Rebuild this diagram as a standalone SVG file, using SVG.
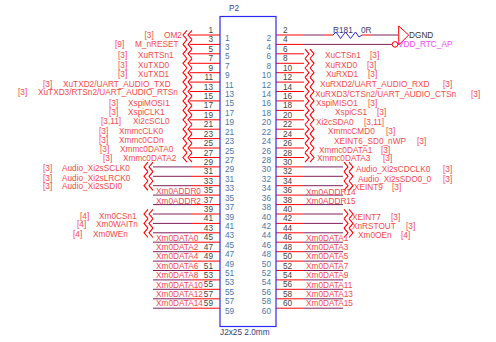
<svg xmlns="http://www.w3.org/2000/svg" width="496" height="342" viewBox="0 0 496 342">
<style>
text{font-family:"Liberation Sans",Arial,sans-serif;font-size:8.25px}
.l{fill:#f54a4a}
.o{fill:#444}
.il{fill:#4a76a8}
.ir{fill:#4a76a8;text-anchor:end}
.ol{fill:#444;text-anchor:end}
.w{fill:none;stroke:#f00;stroke-width:1}
.p{fill:none;stroke:#80205c;stroke-width:1}
.c{fill:none;stroke:#f00;stroke-width:1.1}
</style>
<defs>
<path id="cl" class="c" d="M4-4.7L0 0L4 4.7M-1-4.7L-5 0L-1 4.7"/>
<path id="cr" class="c" d="M-4-4.7L0 0L-4 4.7M1-4.7L5 0L1 4.7"/>
</defs>
<rect width="496" height="342" fill="#fff"/>
<g id="connectors">
<path class="w" d="M190 35H220M190 44.4H220M190 53.8H220M190 63.3H220M190 72.7H220M190 82.1H220M190 91.5H220M190 100.9H220M190 110.4H220M190 119.8H220M190 129.2H220M190 138.6H220M190 148H220M190 157.5H220"/>
<path class="w" d="M191 166.9H220M191 176.3H220M191 185.7H220M191 195.1H220M191 204.6H220M191 214H220M191 223.4H220M191 232.8H220M191 242.2H220M191 251.7H220M191 261.1H220M191 270.5H220M191 279.9H220M191 289.3H220M191 298.8H220M191 308.2H220"/>
<path class="p" d="M153 166.9H191M153 176.3H191M153 185.7H191M153 195.1H191M153 204.6H191M153 214H191M153 223.4H191M153 232.8H191M153 242.2H191M153 251.7H191M153 261.1H191M153 270.5H191M153 279.9H191M153 289.3H191M153 298.8H191M153 308.2H191"/>
<path class="w" d="M276 35H304M276 44.4H304M276 53.8H304M276 63.3H304M276 72.7H304M276 82.1H304M276 91.5H304M276 100.9H304M276 110.4H304M276 119.8H304M276 129.2H304M276 138.6H304M276 148H304M276 157.5H304"/>
<path class="w" d="M276 166.9H304M276 176.3H304M276 185.7H304M276 195.1H304M276 204.6H304M276 214H304M276 223.4H304M276 232.8H304M276 242.2H304M276 251.7H304M276 261.1H304M276 270.5H304M276 279.9H304M276 289.3H304M276 298.8H304M276 308.2H304"/>
<path class="p" d="M304 166.9H343M304 176.3H343M304 185.7H343M304 195.1H343M304 204.6H343M304 214H343M304 223.4H343M304 232.8H343M304 242.2H343M304 251.7H343M304 261.1H343M304 270.5H343M304 279.9H343M304 289.3H343M304 298.8H343M304 308.2H343"/>
<path class="p" d="M304 35H323M371 35H398M304 44.4H392"/>
<path class="w" d="M323 35H333M362 35H371"/>
<use href="#cl" x="188" y="35"/><use href="#cl" x="188" y="44.4"/><use href="#cl" x="188" y="53.8"/><use href="#cl" x="188" y="63.3"/><use href="#cl" x="188" y="72.7"/><use href="#cl" x="188" y="82.1"/><use href="#cl" x="188" y="91.5"/><use href="#cl" x="188" y="100.9"/><use href="#cl" x="188" y="110.4"/><use href="#cl" x="188" y="119.8"/><use href="#cl" x="188" y="129.2"/><use href="#cl" x="188" y="138.6"/><use href="#cl" x="188" y="148"/><use href="#cl" x="188" y="157.5"/>
<use href="#cl" x="149" y="166.9"/><use href="#cl" x="149" y="176.3"/><use href="#cl" x="149" y="185.7"/><use href="#cl" x="149" y="214"/><use href="#cl" x="149" y="223.4"/><use href="#cl" x="149" y="232.8"/>
<use href="#cr" x="309" y="53.8"/><use href="#cr" x="309" y="63.3"/><use href="#cr" x="309" y="72.7"/><use href="#cr" x="309" y="82.1"/><use href="#cr" x="309" y="91.5"/><use href="#cr" x="309" y="100.9"/><use href="#cr" x="309" y="110.4"/><use href="#cr" x="309" y="119.8"/><use href="#cr" x="309" y="129.2"/><use href="#cr" x="309" y="138.6"/><use href="#cr" x="309" y="148"/><use href="#cr" x="309" y="157.5"/>
<use href="#cr" x="348" y="166.9"/><use href="#cr" x="348" y="176.3"/><use href="#cr" x="348" y="185.7"/><use href="#cr" x="348" y="214"/><use href="#cr" x="348" y="223.4"/><use href="#cr" x="348" y="232.8"/>
</g>
<g id="P2">
<rect x="220" y="16.5" width="56" height="310" fill="none" stroke="#2a2af0" stroke-width="1.2"/>
<text x="229" y="11" fill="#3a3a9a">P2</text>
<text x="220" y="335" fill="#3a3a7a">J2x25 2.0mm</text>
<g class="pins">
<text class="ol" x="213" y="33">1</text><text class="ol" x="213" y="42.4">3</text><text class="ol" x="213" y="51.8">5</text><text class="ol" x="213" y="61.3">7</text><text class="ol" x="213" y="70.7">9</text><text class="ol" x="213" y="80.1">11</text><text class="ol" x="213" y="89.5">13</text><text class="ol" x="213" y="98.9">15</text><text class="ol" x="213" y="108.4">17</text><text class="ol" x="213" y="117.8">19</text><text class="ol" x="213" y="127.2">21</text><text class="ol" x="213" y="136.6">23</text><text class="ol" x="213" y="146">25</text><text class="ol" x="213" y="155.5">27</text><text class="ol" x="213" y="164.9">29</text><text class="ol" x="213" y="174.3">31</text><text class="ol" x="213" y="183.7">33</text><text class="ol" x="213" y="193.1">35</text><text class="ol" x="213" y="202.6">37</text><text class="ol" x="213" y="212">39</text><text class="ol" x="213" y="221.4">41</text><text class="ol" x="213" y="230.8">43</text><text class="ol" x="213" y="240.2">45</text><text class="ol" x="213" y="249.7">47</text><text class="ol" x="213" y="259.1">49</text><text class="ol" x="213" y="268.5">51</text><text class="ol" x="213" y="277.9">53</text><text class="ol" x="213" y="287.3">55</text><text class="ol" x="213" y="296.8">57</text><text class="ol" x="213" y="306.2">59</text>
<text class="il" x="225" y="40.5">1</text><text class="il" x="225" y="49.9">3</text><text class="il" x="225" y="59.3">5</text><text class="il" x="225" y="68.8">7</text><text class="il" x="225" y="78.2">9</text><text class="il" x="225" y="87.6">11</text><text class="il" x="225" y="97">13</text><text class="il" x="225" y="106.4">15</text><text class="il" x="225" y="115.9">17</text><text class="il" x="225" y="125.3">19</text><text class="il" x="225" y="134.7">21</text><text class="il" x="225" y="144.1">23</text><text class="il" x="225" y="153.5">25</text><text class="il" x="225" y="163">27</text><text class="il" x="225" y="172.4">29</text><text class="il" x="225" y="181.8">31</text><text class="il" x="225" y="191.2">33</text><text class="il" x="225" y="200.6">35</text><text class="il" x="225" y="210.1">37</text><text class="il" x="225" y="219.5">39</text><text class="il" x="225" y="228.9">41</text><text class="il" x="225" y="238.3">43</text><text class="il" x="225" y="247.7">45</text><text class="il" x="225" y="257.2">47</text><text class="il" x="225" y="266.6">49</text><text class="il" x="225" y="276">51</text><text class="il" x="225" y="285.4">53</text><text class="il" x="225" y="294.8">55</text><text class="il" x="225" y="304.3">57</text><text class="il" x="225" y="313.7">59</text>
<text class="ir" x="271" y="40.5">2</text><text class="ir" x="271" y="49.9">4</text><text class="ir" x="271" y="59.3">6</text><text class="ir" x="271" y="68.8">8</text><text class="ir" x="271" y="78.2">10</text><text class="ir" x="271" y="87.6">12</text><text class="ir" x="271" y="97">14</text><text class="ir" x="271" y="106.4">16</text><text class="ir" x="271" y="115.9">18</text><text class="ir" x="271" y="125.3">20</text><text class="ir" x="271" y="134.7">22</text><text class="ir" x="271" y="144.1">24</text><text class="ir" x="271" y="153.5">26</text><text class="ir" x="271" y="163">28</text><text class="ir" x="271" y="172.4">30</text><text class="ir" x="271" y="181.8">32</text><text class="ir" x="271" y="191.2">34</text><text class="ir" x="271" y="200.6">36</text><text class="ir" x="271" y="210.1">38</text><text class="ir" x="271" y="219.5">40</text><text class="ir" x="271" y="228.9">42</text><text class="ir" x="271" y="238.3">44</text><text class="ir" x="271" y="247.7">46</text><text class="ir" x="271" y="257.2">48</text><text class="ir" x="271" y="266.6">50</text><text class="ir" x="271" y="276">52</text><text class="ir" x="271" y="285.4">54</text><text class="ir" x="271" y="294.8">56</text><text class="ir" x="271" y="304.3">58</text><text class="ir" x="271" y="313.7">60</text>
<text class="o" x="283" y="33">2</text><text class="o" x="283" y="42.4">4</text><text class="o" x="283" y="51.8">6</text><text class="o" x="283" y="61.3">8</text><text class="o" x="283" y="70.7">10</text><text class="o" x="283" y="80.1">12</text><text class="o" x="283" y="89.5">14</text><text class="o" x="283" y="98.9">16</text><text class="o" x="283" y="108.4">18</text><text class="o" x="283" y="117.8">20</text><text class="o" x="283" y="127.2">22</text><text class="o" x="283" y="136.6">24</text><text class="o" x="283" y="146">26</text><text class="o" x="283" y="155.5">28</text><text class="o" x="283" y="164.9">30</text><text class="o" x="283" y="174.3">32</text><text class="o" x="283" y="183.7">34</text><text class="o" x="283" y="193.1">36</text><text class="o" x="283" y="202.6">38</text><text class="o" x="283" y="212">40</text><text class="o" x="283" y="221.4">42</text><text class="o" x="283" y="230.8">44</text><text class="o" x="283" y="240.2">46</text><text class="o" x="283" y="249.7">48</text><text class="o" x="283" y="259.1">50</text><text class="o" x="283" y="268.5">52</text><text class="o" x="283" y="277.9">54</text><text class="o" x="283" y="287.3">56</text><text class="o" x="283" y="296.8">58</text><text class="o" x="283" y="306.2">60</text>
</g>
</g>
<g id="R181">
<path d="M333 35L336 32L340.5 38.5L345.5 32L350.5 38.5L355.5 32L359 37L362 35" fill="none" stroke="#2a2ad0" stroke-width="1"/>
<text x="333" y="33" fill="#3a3a7a">R181</text>
<text x="361" y="33" fill="#3a3a7a">0R</text>
</g>
<g id="DGND">
<path d="M398.7 26L408.7 35L398.7 45Z" fill="none" stroke="#f00" stroke-width="1"/>
<text x="409" y="38" fill="#333">DGND</text>
</g>
<g id="VDD_RTC_AP">
<circle cx="395" cy="44.4" r="2.8" fill="none" stroke="#f00" stroke-width="1"/>
<text x="398" y="47" fill="#f04cf0">VDD_RTC_AP</text>
</g>
<g id="nets-left">
<text class="l" x="144.5" y="38">[3]</text><text class="l" x="164" y="38">OM2</text>
<text class="l" x="115" y="47">[9]</text><text class="l" x="135" y="47">M_nRESET</text>
<text class="l" x="118" y="58">[3]</text><text class="l" x="138" y="58">XuRTSn1</text>
<text class="l" x="118" y="68">[3]</text><text class="l" x="138" y="68">XuTXD0</text>
<text class="l" x="118" y="77">[3]</text><text class="l" x="138" y="77">XuTXD1</text>
<text class="l" x="43" y="87">[3]</text><text class="l" x="63" y="87">XuTXD2/UART_AUDIO_TXD</text>
<text class="l" x="18" y="95">[3]</text><text class="l" x="38" y="95">XuTXD3/RTSn2/UART_AUDIO_RTSn</text>
<text class="l" x="109" y="106">[3]</text><text class="l" x="128" y="106">XspiMOSI1</text>
<text class="l" x="109" y="115">[3]</text><text class="l" x="128" y="115">XspiCLK1</text>
<text class="l" x="101" y="124">[3,11]</text><text class="l" x="133" y="124">Xi2cSCL0</text>
<text class="l" x="99" y="134">[3]</text><text class="l" x="119" y="134">XmmcCLK0</text>
<text class="l" x="99" y="143">[3]</text><text class="l" x="119" y="143">Xmmc0CDn</text>
<text class="l" x="100" y="152">[3]</text><text class="l" x="120" y="152">Xmmc0DATA0</text>
<text class="l" x="103" y="161">[3]</text><text class="l" x="123" y="161">Xmmc0DATA2</text>
<text class="l" x="43" y="171">[3]</text><text class="l" x="62" y="171">Audio_Xi2sSCLK0</text>
<text class="l" x="43" y="181">[3]</text><text class="l" x="62" y="181">Audio_Xi2sLRCK0</text>
<text class="l" x="43" y="189">[3]</text><text class="l" x="62" y="189">Audio_Xi2sSDI0</text>
<text class="l" x="156" y="194">Xm0ADDR0</text>
<text class="l" x="156" y="203.5">Xm0ADDR2</text>
<text class="l" x="80" y="219">[4]</text><text class="l" x="99" y="219">Xm0CSn1</text>
<text class="l" x="77" y="227">[4]</text><text class="l" x="96" y="227">Xm0WAITn</text>
<text class="l" x="73" y="237">[4]</text><text class="l" x="93" y="237">Xm0WEn</text>
<text class="l" x="156" y="241">Xm0DATA0</text>
<text class="l" x="156" y="250">Xm0DATA2</text>
<text class="l" x="156" y="259">Xm0DATA4</text>
<text class="l" x="156" y="269">Xm0DATA6</text>
<text class="l" x="156" y="278">Xm0DATA8</text>
<text class="l" x="156" y="287.5">Xm0DATA10</text>
<text class="l" x="156" y="297">Xm0DATA12</text>
<text class="l" x="156" y="306">Xm0DATA14</text>
</g>
<g id="nets-right">
<text class="l" x="325" y="58">XuCTSn1</text><text class="l" x="370" y="58">[3]</text>
<text class="l" x="325" y="67.5">XuRXD0</text><text class="l" x="367" y="67.5">[3]</text>
<text class="l" x="326" y="76.5">XuRXD1</text><text class="l" x="368" y="76.5">[3]</text>
<text class="l" x="320" y="87">XuRXD2/UART_AUDIO_RXD</text><text class="l" x="443" y="87">[3]</text>
<text class="l" x="315" y="96.5">XuRXD3/CTSn2/UART_AUDIO_CTSn</text><text class="l" x="471" y="96.5">[3]</text>
<text class="l" x="316" y="105.5">XspiMISO1</text><text class="l" x="368" y="105.5">[3]</text>
<text class="l" x="335" y="115">XspiCS1</text><text class="l" x="377" y="115">[3]</text>
<text class="l" x="316" y="124.5">Xi2cSDA0</text><text class="l" x="364" y="124.5">[3,11]</text>
<text class="l" x="328" y="134">XmmcCMD0</text><text class="l" x="386" y="134">[3]</text>
<text class="l" x="334" y="143.5">XEINT6_SD0_nWP</text><text class="l" x="417" y="143.5">[3]</text>
<text class="l" x="319" y="152.5">Xmmc0DATA1</text><text class="l" x="381" y="152.5">[3]</text>
<text class="l" x="317" y="160.5">Xmmc0DATA3</text><text class="l" x="383" y="160.5">[3]</text>
<text class="l" x="356" y="171.5">Audio_Xi2sCDCLK0</text><text class="l" x="443" y="171.5">[3]</text>
<text class="l" x="358" y="181.5">Audio_Xi2sSDO0_0</text><text class="l" x="443" y="181.5">[3]</text>
<text class="l" x="354" y="189.5">XEINT9</text><text class="l" x="392" y="189.5">[3]</text>
<text class="l" x="306" y="194.5">Xm0ADDR14</text>
<text class="l" x="306" y="203.5">Xm0ADDR15</text>
<text class="l" x="352" y="219.5">XEINT7</text><text class="l" x="391" y="219.5">[3]</text>
<text class="l" x="352" y="228.5">XnRSTOUT</text><text class="l" x="406" y="228.5">[3]</text>
<text class="l" x="358" y="237.5">Xm0OEn</text><text class="l" x="401" y="237.5">[4]</text>
<text class="l" x="306" y="241">Xm0DATA1</text>
<text class="l" x="306" y="250">Xm0DATA3</text>
<text class="l" x="306" y="259">Xm0DATA5</text>
<text class="l" x="306" y="269">Xm0DATA7</text>
<text class="l" x="306" y="278">Xm0DATA9</text>
<text class="l" x="306" y="287.5">Xm0DATA11</text>
<text class="l" x="306" y="297">Xm0DATA13</text>
<text class="l" x="306" y="306">Xm0DATA15</text>
</g>
</svg>
